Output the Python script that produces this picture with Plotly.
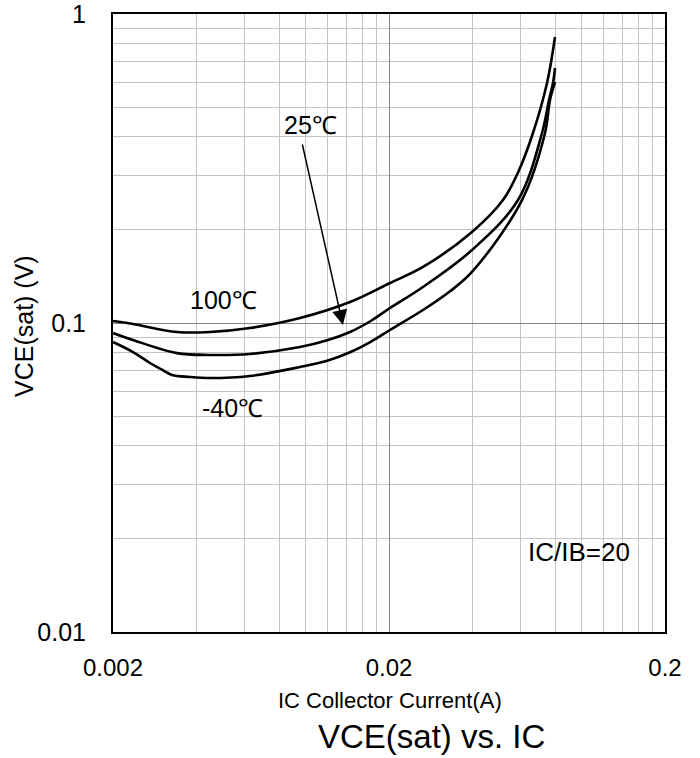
import plotly.graph_objects as go
import math

# Collector current (A) and VCE(sat) (V)
ic_100 = [0.002, 0.002363, 0.003412, 0.004492, 0.006273, 0.009519, 0.014445, 0.020167, 0.02656, 0.03996, 0.05176, 0.05868, 0.06648, 0.07474, 0.0799]
vce_100 = [0.1015, 0.09926, 0.09352, 0.09352, 0.09634, 0.1038, 0.11695, 0.13472, 0.15181, 0.197, 0.250, 0.307, 0.412, 0.598, 0.8426]

ic_25 = [0.002, 0.002363, 0.003412, 0.004492, 0.006273, 0.009519, 0.01186, 0.014445, 0.01717, 0.020167, 0.02656, 0.03996, 0.05868, 0.07168, 0.07598, 0.07858, 0.0799]
vce_25 = [0.0928, 0.0881, 0.0799, 0.0788, 0.0794, 0.0836, 0.0877, 0.0935, 0.1015, 0.1118, 0.1308, 0.1722, 0.250, 0.412, 0.527, 0.598, 0.6687]

ic_m40 = [0.002, 0.002363, 0.002723, 0.002975, 0.003271, 0.003802, 0.004492, 0.006273, 0.009519, 0.01186, 0.014445, 0.01717, 0.020167, 0.02656, 0.0331, 0.03996, 0.06066, 0.0735, 0.07662, 0.0799]
vce_m40 = [0.0868, 0.08054, 0.07422, 0.07100, 0.06788, 0.06688, 0.06638, 0.06738, 0.07204, 0.0753, 0.0804, 0.0869, 0.09492, 0.11015, 0.1262, 0.14624, 0.250, 0.412, 0.527, 0.602]

x_major = [0.002, 0.02, 0.2]
x_major_text = ["0.002", "0.02", "0.2"]
x_minor = [0.002 * k for k in range(2, 10)] + [0.02 * k for k in range(2, 10)]
y_major = [0.01, 0.1, 1]
y_major_text = ["0.01", "0.1", "1"]
y_minor = [0.01 * k for k in range(2, 10)] + [0.1 * k for k in range(2, 10)]

FONT = "Liberation Sans, Arial, sans-serif"

fig = go.Figure()
for xs, ys in [(ic_100, vce_100), (ic_25, vce_25), (ic_m40, vce_m40)]:
    fig.add_trace(go.Scatter(x=xs, y=ys, mode="lines",
                             line=dict(color="black", width=2.6, shape="spline", smoothing=1.0),
                             showlegend=False, hoverinfo="skip"))

L = math.log10
annos = [
    dict(x=L(0.00501), y=L(0.1187), text="100℃", size=25),
    dict(x=L(0.01042), y=L(0.4375), text="25℃", size=25),
    dict(x=L(0.0054), y=L(0.0531), text="-40℃", size=25),
    dict(x=L(0.0976), y=L(0.01815), text="IC/IB=20", size=26),
]
for a in annos:
    fig.add_annotation(x=a["x"], y=a["y"], xref="x", yref="y", text=a["text"],
                       showarrow=False, font=dict(family=FONT, size=a["size"], color="black"))

# arrow for 25℃
fig.add_annotation(x=L(0.01362), y=L(0.0985), ax=L(0.00968), ay=L(0.3824),
                   xref="x", yref="y", axref="x", ayref="y", text="",
                   showarrow=True, arrowhead=2, arrowsize=2.0, arrowwidth=1.5,
                   arrowcolor="black")

fig.add_annotation(x=(390 - 113) / 552, y=(632 - 700) / 618, xref="paper", yref="paper",
                   yanchor="middle", text="IC Collector Current(A)", showarrow=False,
                   font=dict(family=FONT, size=22, color="black"))
fig.add_annotation(x=(431 - 113) / 552, y=(632 - 736) / 618, xref="paper", yref="paper",
                   yanchor="middle", text="VCE(sat) vs. IC", showarrow=False,
                   font=dict(family=FONT, size=33, color="black"))
fig.add_annotation(x=(24 - 113) / 552, y=(632 - 326) / 618, xref="paper", yref="paper",
                   xanchor="center", yanchor="middle",
                   text="VCE(sat) (V)", showarrow=False, textangle=-90,
                   font=dict(family=FONT, size=25, color="black"))

fig.update_xaxes(type="log", range=[L(0.002), L(0.2)],
                 tickmode="array", tickvals=x_major, ticktext=x_major_text,
                 showgrid=True, gridcolor="#858585", gridwidth=1.3,
                 showline=True, linecolor="black", linewidth=2, mirror=True,
                 ticks="", ticklabelstandoff=13, automargin=False,
                 ticklabeloverflow="allow",
                 tickfont=dict(family=FONT, size=24, color="black"),
                 minor=dict(tickmode="array", tickvals=x_minor, showgrid=True,
                            gridcolor="#c4c4c4", gridwidth=1.3, ticks=""),
                 zeroline=False)
fig.update_yaxes(type="log", range=[L(0.01), L(1)],
                 tickmode="array", tickvals=y_major, ticktext=y_major_text,
                 showgrid=True, gridcolor="#858585", gridwidth=1.3,
                 showline=True, linecolor="black", linewidth=2, mirror=True,
                 ticks="", ticklabelstandoff=20, automargin=False,
                 ticklabeloverflow="allow",
                 tickfont=dict(family=FONT, size=25, color="black"),
                 minor=dict(tickmode="array", tickvals=y_minor, showgrid=True,
                            gridcolor="#c4c4c4", gridwidth=1.3, ticks=""),
                 zeroline=False)

fig.update_layout(width=700, height=758,
                  margin=dict(l=113, r=35, t=14, b=126, autoexpand=False),
                  plot_bgcolor="white", paper_bgcolor="white", showlegend=False)

fig.write_html("out.html")
